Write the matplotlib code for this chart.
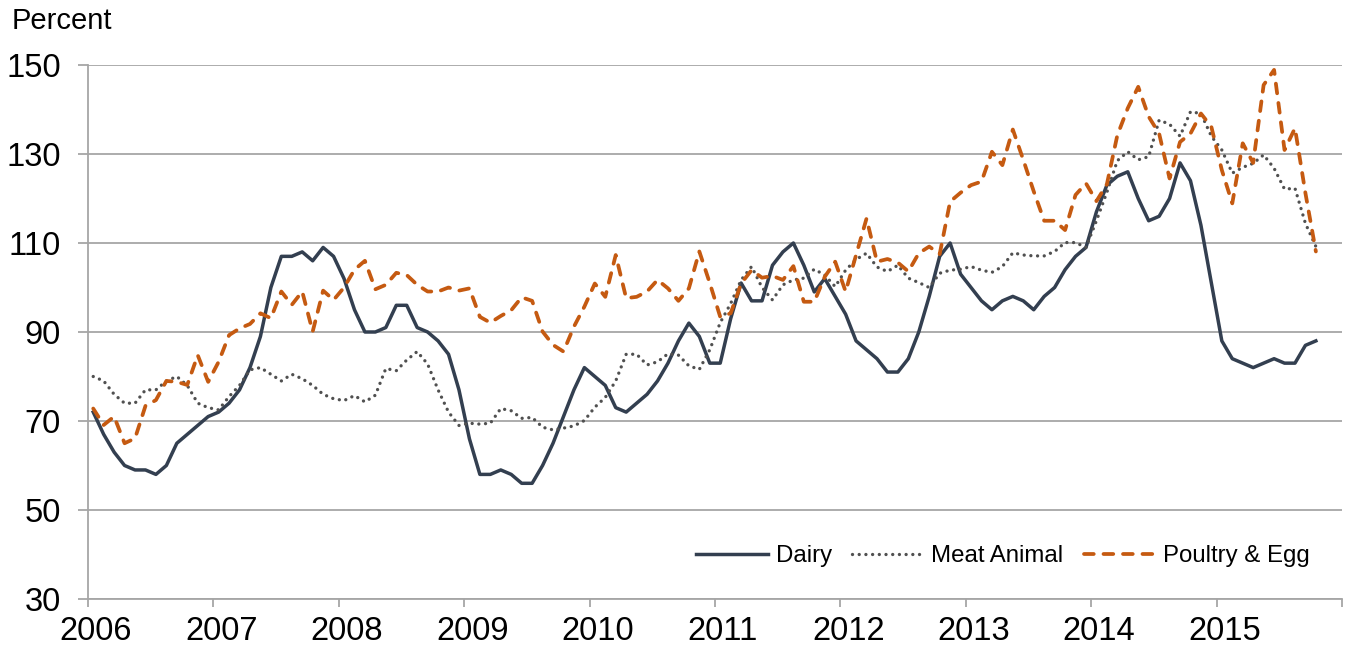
import numpy as np
import matplotlib
matplotlib.use("Agg")
import matplotlib.pyplot as plt
from matplotlib.transforms import ScaledTranslation

plt.rcParams['font.family'] = ['Liberation Sans', 'DejaVu Sans']

# monthly index values, Jan 2006 - Oct 2015
dairy = [
    72, 67, 63, 60, 59, 59, 58, 60, 65, 67, 69, 71,
    72, 74, 77, 82, 89, 100, 107, 107, 108, 106, 109, 107,
    102, 95, 90, 90, 91, 96, 96, 91, 90, 88, 85, 77,
    66, 58, 58, 59, 58, 56, 56, 60, 65, 71, 77, 82,
    80, 78, 73, 72, 74, 76, 79, 83, 88, 92, 89, 83,
    83, 93, 101, 97, 97, 105, 108, 110, 105, 99, 102, 98,
    94, 88, 86, 84, 81, 81, 84, 90, 98, 107, 110, 103,
    100, 97, 95, 97, 98, 97, 95, 98, 100, 104, 107, 109,
    117, 123, 125, 126, 120, 115, 116, 120, 128, 124, 114, 101,
    88, 84, 83, 82, 83, 84, 83, 83, 87, 88,
]
meat_animal = [
    80, 79, 76, 74, 74, 77, 77, 79, 80, 78, 74, 73,
    72.5, 75.5, 78, 81.5, 82, 80.5, 79, 80.5, 79.5, 78, 76, 75,
    74.6, 75.7, 74.3, 75.8, 81.8, 81.3, 83.7, 85.6, 82.8, 77, 72, 69,
    69.5, 69.3, 69.5, 72.8, 72.3, 70.6, 70.8, 68.6, 68, 68.4, 68.9, 70.1,
    73.1, 75.3, 79, 85, 85, 82.6, 83.3, 85.1, 84.8, 82.4, 81.6, 86,
    92.1, 96.4, 101.7, 104.7, 100, 97.2, 100.6, 101.7, 102.1, 104.1, 102.8, 100.2,
    103.9, 106.3, 107.7, 104.6, 103.6, 105, 102.1, 101.1, 100, 103.2, 103.9, 104.1,
    104.7, 103.9, 103.4, 104.7, 107.8, 107.3, 107.1, 107.1, 108.1, 110.1, 110.1, 109,
    115, 121.4, 128.5, 130.5, 128.7, 129.4, 137.6, 136.7, 134, 139.5, 139.1, 134,
    130.9, 125.7, 127, 127.9, 129.8, 126.8, 122.1, 122.3, 114.4, 109.2,
]
poultry_egg = [
    72.8, 69.1, 71, 65, 66.1, 73.4, 74.7, 79, 78.8, 78.1, 84.8, 78.8,
    83.3, 89.3, 90.8, 91.8, 94.2, 93.1, 99.1, 96.1, 99.1, 90.1, 99.3, 97.2,
    100, 104, 106, 99.6, 100.6, 103.3, 102.8, 100.6, 99.1, 99.1, 100, 99.3,
    99.8, 93.4, 92.1, 93.6, 94.9, 97.8, 97, 90.1, 87.1, 85.6, 91.2, 95.7,
    100.9, 97.9, 107.3, 97.6, 97.9, 99.1, 101.7, 99.8, 97, 99.8, 108.1, 101,
    93.4, 94.2, 100.9, 103.9, 102.2, 102.6, 101.7, 104.8, 96.8, 96.8, 102.4, 105.8,
    99.1, 107.3, 115.5, 105.8, 106.4, 105.6, 103.6, 107.7, 109.2, 107.5, 119.3, 121.3,
    123, 123.8, 130.5, 127.5, 135.5, 128.7, 121.6, 115, 115, 112.9, 120.8, 123.4,
    119.4, 123.2, 134.2, 140.3, 145.1, 138.4, 134.6, 124.5, 132.7, 134.6, 139.1, 136.1,
    126.4, 118.9, 132.4, 128, 145.5, 148.9, 130.9, 135.8, 121.2, 108.1,
]
series_names = ["Dairy", "Meat Animal", "Poultry & Egg"]
years = list(range(2006, 2017))
year_labels = [str(y) for y in years[:-1]] + [""]

# mid-month positions on a fractional-year axis
months = np.arange(len(dairy))
x = 2006 + (months + 0.5) / 12

W, H = 1345, 650
fig = plt.figure(figsize=(W / 100, H / 100), dpi=100)
ax = fig.add_axes([88 / W, 51 / H, 1254 / W, 534 / H])

grid_col = "#A6A6A6"
ax.plot(x, dairy, color="#333F50", lw=2.5, label=series_names[0],
        solid_joinstyle="round", zorder=3)
ax.plot(x, meat_animal, color="#505050", lw=2.4, linestyle=(0, (0.01, 2.0)),
        dash_capstyle="round", label=series_names[1], zorder=3)
ax.plot(x, poultry_egg, color="#C55A11", lw=2.7, linestyle=(0, (2.6, 2.6)),
        dash_capstyle="round", label=series_names[2], zorder=3)

ax.set_xlim(2006, 2016)
ax.set_ylim(30, 150)
ax.set_yticks(range(30, 151, 20))
ax.set_xticks(years)
ax.set_xticklabels(year_labels)
ax.yaxis.grid(True, color=grid_col, lw=1.3)
ax.set_axisbelow(True)

for s in ("top", "right"):
    ax.spines[s].set_visible(False)
for s in ("left", "bottom"):
    ax.spines[s].set_color(grid_col)
    ax.spines[s].set_linewidth(1.3)
ax.tick_params(axis="both", colors=grid_col, width=1.3,
               labelsize=23.5, labelcolor="black")
ax.tick_params(axis="x", length=6, pad=6)
ax.tick_params(axis="y", length=7.5, pad=12)

# year labels sit a little right of their tick marks
shift = ScaledTranslation(8 / 100, 0, fig.dpi_scale_trans)
for lab in ax.get_xticklabels():
    lab.set_transform(lab.get_transform() + shift)

fig.text(12 / W, 1 - 21 / H, "Percent", fontsize=21, va="center", ha="left")

ax.legend(loc="center right", bbox_to_anchor=(1310 / W, 1 - 556 / H),
          bbox_transform=fig.transFigure, ncol=3, frameon=False,
          fontsize=17.3, handlelength=3.0, handletextpad=0.3,
          columnspacing=0.85, borderpad=0, borderaxespad=0)

fig.savefig("out.png", dpi=100)
